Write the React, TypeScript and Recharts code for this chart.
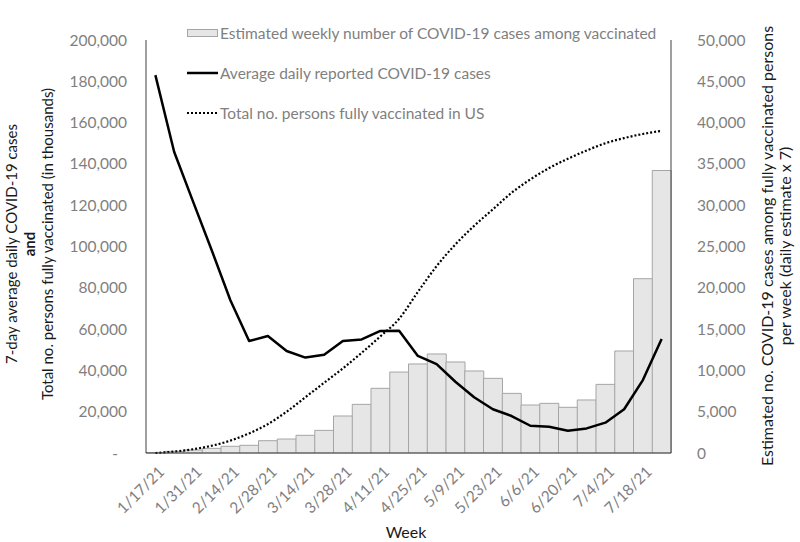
import React from "react";
import {
  Bar,
  ComposedChart,
  Legend,
  Line,
  XAxis,
  YAxis,
} from "recharts";

const weeks = [
  "1/17/21", "1/24/21", "1/31/21", "2/7/21", "2/14/21", "2/21/21", "2/28/21",
  "3/7/21", "3/14/21", "3/21/21", "3/28/21", "4/4/21", "4/11/21", "4/18/21",
  "4/25/21", "5/2/21", "5/9/21", "5/16/21", "5/23/21", "5/30/21", "6/6/21",
  "6/13/21", "6/20/21", "6/27/21", "7/4/21", "7/11/21", "7/18/21", "7/25/21",
];

// weekly cases among vaccinated (right axis)
const vaxCases = [
  60, 200, 360, 560, 810, 930, 1490, 1690, 2140, 2740, 4480, 5890, 7830, 9800,
  10780, 11990, 11020, 9930, 9040, 7220, 5810, 6010, 5530, 6420, 8310, 12350,
  21100, 34200,
];

// 7-day average daily reported cases (left axis)
const dailyCases = [
  183000, 145900, 122000, 98300, 74000, 54200, 56650, 49400, 46200, 47600,
  54200, 55000, 59100, 59200, 47000, 43000, 34500, 27000, 21200, 17900, 13200,
  12700, 10800, 11900, 14700, 21200, 35300, 55200,
];

// total fully vaccinated, thousands (left axis)
const fullyVax = [
  0, 700, 1800, 3500, 6000, 9500, 14000, 20000, 27000, 34000, 41000, 48500,
  56500, 65000, 78000, 90500, 101000, 110000, 118000, 126000, 132500, 138000,
  142500, 146500, 150000, 152500, 154500, 156000,
];

const leftTicks = [0, 20000, 40000, 60000, 80000, 100000, 120000, 140000, 160000, 180000, 200000];
const rightTicks = [0, 5000, 10000, 15000, 20000, 25000, 30000, 35000, 40000, 45000, 50000];

const data = weeks.map((w, i) => ({
  week: w,
  vax: vaxCases[i],
  cases: dailyCases[i],
  total: fullyVax[i],
}));

const FONT = "Lato, 'Open Sans', sans-serif";
const GRAY = "#7f7f7f";
const INK = "#1a1a1a";

const fmt = (v: number) => v.toLocaleString("en-US");

const LeftTick = (props: any) => {
  const { x, y, payload } = props;
  const zero = payload.value === 0;
  return (
    <text x={zero ? x - 9 : x} y={y} dy="0.355em" textAnchor="end" fill={GRAY} fontSize={15.5} fontFamily={FONT}>
      {zero ? "-" : fmt(payload.value)}
    </text>
  );
};

const RightTick = (props: any) => {
  const { x, y, payload } = props;
  return (
    <text x={x} y={y} dy="0.355em" textAnchor="start" fill={GRAY} fontSize={15.5} fontFamily={FONT}>
      {fmt(payload.value)}
    </text>
  );
};

const WeekTick = (props: any) => {
  const { x, y, payload } = props;
  const tx = x + 6;
  const ty = y + 16;
  return (
    <text
      x={tx}
      y={ty}
      dy="0.355em"
      textAnchor="end"
      fill={GRAY}
      fontSize={15.5}
      fontFamily={FONT}
      transform={`rotate(-45, ${tx}, ${ty})`}
    >
      {payload.value}
    </text>
  );
};

const LeftTitle = () => (
  <g fontFamily={FONT} fontSize={15} fill={INK}>
    <text x={12} y={244} dy="0.355em" textAnchor="middle" transform="rotate(-90, 12, 244)">
      7-day average daily COVID-19 cases
    </text>
    <text x={30} y={244} dy="0.355em" textAnchor="middle" fontWeight="bold" transform="rotate(-90, 30, 244)">
      and
    </text>
    <text x={48} y={244} dy="0.355em" textAnchor="middle" transform="rotate(-90, 48, 244)">
      Total no. persons fully vaccinated (in thousands)
    </text>
  </g>
);

const RightTitle = () => (
  <g fontFamily={FONT} fontSize={16} fill={INK}>
    <text x={767} y={246} dy="0.355em" textAnchor="middle" transform="rotate(-90, 767, 246)">
      Estimated no. COVID-19 cases among fully vaccinated persons
    </text>
    <text x={785} y={246} dy="0.355em" textAnchor="middle" transform="rotate(-90, 785, 246)">
      per week (daily estimate x 7)
    </text>
  </g>
);

const WeekTitle = () => (
  <text x={406} y={532} dy="0.355em" textAnchor="middle" fill={INK} fontSize={16} fontFamily={FONT}>
    Week
  </text>
);

const legendRows = [
  { key: "bar", label: "Estimated weekly number of COVID-19 cases among vaccinated" },
  { key: "line", label: "Average daily reported COVID-19 cases" },
  { key: "dot", label: "Total no. persons fully vaccinated in US" },
];

const LegendBox = () => (
  <div style={{ fontFamily: FONT, fontSize: 15.5, color: GRAY }}>
    {legendRows.map((r) => (
      <div key={r.key} style={{ display: "flex", alignItems: "center", height: 40, whiteSpace: "nowrap" }}>
        <svg width={31} height={12} style={{ marginRight: 2 }}>
          {r.key === "bar" && <rect x={0.5} y={2.5} width={30} height={7} fill="#e7e6e6" stroke="#a5a5a5" />}
          {r.key === "line" && <line x1={0} y1={6} x2={31} y2={6} stroke="#000" strokeWidth={2.5} />}
          {r.key === "dot" && (
            <line x1={0} y1={6} x2={31} y2={6} stroke="#000" strokeWidth={2.2} strokeDasharray="2 2" />
          )}
        </svg>
        <span>{r.label}</span>
      </div>
    ))}
  </div>
);

export default function App() {
  return (
    <div style={{ position: "absolute", left: 0, top: 0, width: 800, height: 542, background: "#fff" }}>
      <ComposedChart
        width={800}
        height={542}
        data={data}
        margin={{ top: 40, right: 0, bottom: 0, left: 0 }}
        barCategoryGap={0}
        barGap={0}
      >
        <XAxis
          dataKey="week"
          height={89}
          interval={1}
          tickLine={false}
          tickSize={0}
          tickMargin={0}
          axisLine={{ stroke: "#404040" }}
          tick={<WeekTick />}
          label={{ content: <WeekTitle /> } as any}
        />
        <YAxis
          yAxisId="left"
          orientation="left"
          width={146}
          domain={[0, 200000]}
          ticks={leftTicks}
          tickLine={false}
          tickSize={0}
          tickMargin={19}
          axisLine={{ stroke: "#404040" }}
          tick={<LeftTick />}
          label={{ content: <LeftTitle /> } as any}
        />
        <YAxis
          yAxisId="right"
          orientation="right"
          width={129}
          domain={[0, 50000]}
          ticks={rightTicks}
          tickLine={false}
          tickSize={0}
          tickMargin={26}
          axisLine={{ stroke: "#404040" }}
          tick={<RightTick />}
          label={{ content: <RightTitle /> } as any}
        />
        <Legend
          layout="vertical"
          align="center"
          verticalAlign="middle"
          content={<LegendBox />}
          wrapperStyle={{ position: "absolute", left: 187, top: 13, width: "auto" }}
        />
        <Bar
          yAxisId="right"
          dataKey="vax"
          fill="#e7e6e6"
          stroke="#a5a5a5"
          strokeWidth={1}
          isAnimationActive={false}
        />
        <Line
          yAxisId="left"
          dataKey="total"
          type="monotone"
          stroke="#000"
          strokeWidth={2.2}
          strokeDasharray="2 2"
          dot={false}
          isAnimationActive={false}
        />
        <Line
          yAxisId="left"
          dataKey="cases"
          type="linear"
          stroke="#000"
          strokeWidth={2.5}
          strokeLinejoin="round"
          dot={false}
          isAnimationActive={false}
        />
      </ComposedChart>
    </div>
  );
}
